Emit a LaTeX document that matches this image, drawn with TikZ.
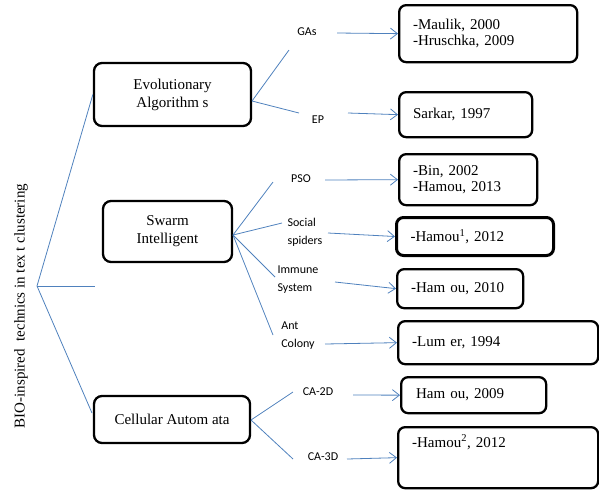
\documentclass[tikz,border=0pt]{standalone}
\usepackage{fontspec}
\setmainfont{Liberation Serif}
\newfontfamily\lblfont{Carlito}
\usetikzlibrary{arrows.meta}
\definecolor{linkblue}{RGB}{79,129,189}
\begin{document}
\begin{tikzpicture}[x=1pt,y=-1pt,
  catbox/.style={draw, line width=2.3pt, rounded corners=8pt, align=center,
    font=\fontsize{15}{18}\selectfont, inner sep=0pt},
  refbox/.style={draw, line width=2.3pt, rounded corners=7pt, align=left,
    anchor=north west, inner xsep=14pt, inner ysep=0pt,
    font=\fontsize{15}{16.5}\selectfont},
  lbl/.style={font=\lblfont\fontsize{12}{18}\selectfont, align=left, inner sep=0pt},
  link/.style={draw=linkblue, line width=0.8pt},
  arr/.style={link, -{Straight Barb[length=7pt,width=11pt]}}]
\useasboundingbox (0,0) rectangle (599,491);

% root title
\node[rotate=90, font=\fontsize{15}{18}\selectfont] (root) at (21,306)
  {BIO-inspired\ \ technics in tex t clustering};

% category boxes
\node[catbox, minimum width=157pt, minimum height=63pt] (evo) at (172.5,94.5)
  {Evolutionary\\Algorithm s};
\node[catbox, minimum width=129pt, minimum height=61pt] (swarm) at (167.5,231.5)
  {Swarm\\Intelligent};
\node[catbox, minimum width=156pt, minimum height=47pt] (cell) at (172,419.5)
  {Cellular Autom ata};

% reference boxes
\node[refbox, text width=150pt, minimum height=57pt] (maulik) at (398,4)
  {-Maulik, 2000\\-Hruschka, 2009};
\node[refbox, text width=105pt, minimum height=45pt] (sarkar) at (398,91)
  {Sarkar, 1997};
\node[refbox, text width=110pt, minimum height=51pt] (bin) at (398,153)
  {-Bin, 2002\\-Hamou, 2013};
\node[refbox, text width=129pt, minimum height=38pt, line width=3pt] (hamA) at (395,216)
  {-Hamou\textsuperscript{1}, 2012};
\node[refbox, text width=98pt, minimum height=39pt] (hamB) at (396,268)
  {-Ham ou, 2010};
\node[refbox, text width=172pt, minimum height=43pt] (lumer) at (397,320)
  {-Lum er, 1994};
\node[refbox, text width=115pt, minimum height=36pt, inner xsep=15pt] (hamC) at (400,376)
  {Ham ou, 2009};
\node[refbox, text width=172pt, minimum height=61pt] (hamD) at (397,426)
  {-Hamou\textsuperscript{2}, 2012\\[12pt]\strut};

% method labels
\node[lbl] (gas) at (307,32) {GAs};
\node[lbl] (ep) at (318,120) {EP};
\node[lbl] (pso) at (301,179) {PSO};
\node[lbl] (social) at (305,232) {Social\\spiders};
\node[lbl] (immune) at (298,280) {Immune\\System};
\node[lbl] (ant) at (298,336) {Ant\\Colony};
\node[lbl] (ca2) at (318,392) {CA-2D};
\node[lbl] (ca3) at (323,457) {CA-3D};

% fork points and free ends
\coordinate (fork) at (37,286);
\coordinate (midend) at (95,286);
\coordinate (cellend) at (92,413);
\coordinate (evoR) at (252,101);
\coordinate (swR) at (233,235);
\coordinate (cellR) at (251,420);
\coordinate (gasL) at (289,50);
\coordinate (epL) at (299,113);
\coordinate (psoL) at (273,182);
\coordinate (socL) at (282,223);
\coordinate (immL) at (275,277);
\coordinate (antL) at (273,335);
\coordinate (ca2L) at (293,392);
\coordinate (ca3L) at (293,459);
\coordinate (gasR) at (337,33);
\coordinate (epR) at (348,113);
\coordinate (psoR) at (325,180);
\coordinate (socR) at (328,233);
\coordinate (immR) at (335,282);
\coordinate (antR) at (325,344);
\coordinate (ca2R) at (353,395);
\coordinate (ca3R) at (347,459);

% tree branches
\draw[link] (fork) -- (evo.west);
\draw[link] (fork) -- (midend);
\draw[link] (fork) -- (cellend);
\draw[link] (evoR) -- (gasL);
\draw[link] (evoR) -- (epL);
\draw[link] (swR) -- (psoL);
\draw[link] (swR) -- (socL);
\draw[link] (swR) -- (immL);
\draw[link] (swR) -- (antL);
\draw[link] (cellR) -- (ca2L);
\draw[link] (cellR) -- (ca3L);

% arrows to references
\draw[arr] (gasR) -- (maulik.west);
\draw[arr] (epR) -- (sarkar.west);
\draw[arr] (psoR) -- (bin.west);
\draw[arr] (socR) -- (hamA.west);
\draw[arr] (immR) -- (hamB.west);
\draw[arr] (antR) -- (lumer.west);
\draw[arr] (ca2R) -- (hamC.west);
\draw[arr] (ca3R) -- (hamD.west);
\end{tikzpicture}
\end{document}
